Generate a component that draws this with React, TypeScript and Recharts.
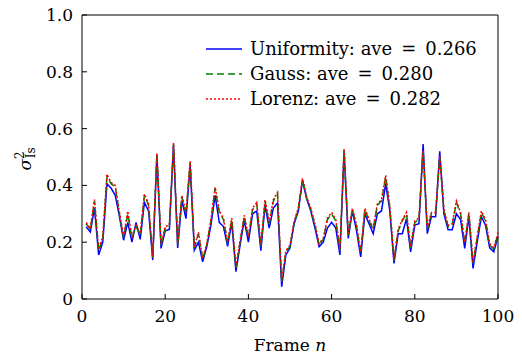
import { Label, Legend, Line, LineChart, ReferenceLine, XAxis, YAxis } from 'recharts';

const FONT = '"DejaVu Serif", serif';

// sigma^2 per frame (frames 1..100)
const uniformity = [
  0.254, 0.236, 0.32, 0.155, 0.2, 0.406, 0.39, 0.365, 0.29, 0.207,
  0.27, 0.2, 0.27, 0.21, 0.34, 0.31, 0.137, 0.505, 0.178, 0.24,
  0.245, 0.54, 0.18, 0.347, 0.283, 0.47, 0.172, 0.2, 0.131, 0.185,
  0.26, 0.365, 0.27, 0.255, 0.185, 0.27, 0.096, 0.19, 0.277, 0.2,
  0.3, 0.31, 0.17, 0.33, 0.25, 0.32, 0.338, 0.043, 0.155, 0.18,
  0.265, 0.31, 0.418, 0.353, 0.31, 0.25, 0.184, 0.2, 0.25, 0.27,
  0.25, 0.155, 0.517, 0.213, 0.31, 0.24, 0.148, 0.3, 0.265, 0.23,
  0.3, 0.31, 0.406, 0.31, 0.125, 0.23, 0.23, 0.283, 0.166, 0.26,
  0.265, 0.546, 0.23, 0.29, 0.29, 0.52, 0.3, 0.244, 0.244, 0.3,
  0.28, 0.178, 0.29, 0.108, 0.2, 0.29, 0.26, 0.18, 0.166, 0.22,
];

const gauss = [
  0.265, 0.245, 0.345, 0.17, 0.215, 0.43, 0.405, 0.395, 0.3, 0.215,
  0.3, 0.215, 0.255, 0.225, 0.365, 0.33, 0.145, 0.51, 0.19, 0.25,
  0.255, 0.545, 0.19, 0.36, 0.3, 0.48, 0.18, 0.23, 0.14, 0.19,
  0.275, 0.39, 0.305, 0.28, 0.195, 0.28, 0.11, 0.2, 0.29, 0.215,
  0.315, 0.335, 0.185, 0.345, 0.265, 0.345, 0.37, 0.06, 0.165, 0.185,
  0.27, 0.315, 0.42, 0.355, 0.315, 0.26, 0.19, 0.21, 0.28, 0.3,
  0.275, 0.17, 0.525, 0.225, 0.315, 0.255, 0.16, 0.315, 0.275, 0.245,
  0.33, 0.345, 0.43, 0.32, 0.135, 0.24, 0.275, 0.3, 0.18, 0.27,
  0.28, 0.52, 0.245, 0.3, 0.3, 0.5, 0.31, 0.255, 0.26, 0.34,
  0.3, 0.195, 0.3, 0.125, 0.215, 0.305, 0.275, 0.19, 0.175, 0.23,
];

const lorenz = [
  0.27, 0.248, 0.35, 0.175, 0.22, 0.44, 0.41, 0.4, 0.305, 0.22,
  0.31, 0.22, 0.26, 0.23, 0.37, 0.335, 0.148, 0.515, 0.195, 0.255,
  0.26, 0.55, 0.195, 0.365, 0.305, 0.485, 0.185, 0.235, 0.145, 0.195,
  0.28, 0.395, 0.31, 0.285, 0.2, 0.285, 0.115, 0.205, 0.295, 0.22,
  0.32, 0.34, 0.19, 0.35, 0.27, 0.35, 0.375, 0.065, 0.17, 0.19,
  0.275, 0.32, 0.425, 0.36, 0.32, 0.265, 0.195, 0.215, 0.285, 0.305,
  0.28, 0.175, 0.53, 0.23, 0.32, 0.26, 0.165, 0.32, 0.28, 0.25,
  0.335, 0.35, 0.435, 0.325, 0.14, 0.245, 0.28, 0.305, 0.185, 0.275,
  0.285, 0.525, 0.25, 0.305, 0.305, 0.505, 0.315, 0.26, 0.265, 0.345,
  0.305, 0.2, 0.305, 0.13, 0.22, 0.31, 0.28, 0.195, 0.18, 0.235,
];

const frames = uniformity.map((_, i) => i + 1);
const xTicks = [0, 20, 40, 60, 80, 100];
const yTicks = [0, 0.2, 0.4, 0.6, 0.8, 1.0];

const seriesInfo = [
  { key: 'uniformity', label: 'Uniformity: ave\u2002=\u20020.266', color: '#0000ff', dash: undefined },
  { key: 'gauss', label: 'Gauss: ave\u2002=\u20020.280', color: '#008000', dash: '7 4' },
  { key: 'lorenz', label: 'Lorenz: ave\u2002=\u20020.282', color: '#ff0000', dash: '2 2' },
];

const data = frames.map((frame, i) => ({
  frame,
  uniformity: uniformity[i],
  gauss: gauss[i],
  lorenz: lorenz[i],
}));

const fmtY = (v: number) => (v === 0 ? '0' : v.toFixed(1));

const renderLegend = () => (
  <div style={{ fontFamily: FONT, fontSize: 18, color: '#000' }}>
    {seriesInfo.map((s) => (
      <div key={s.key} style={{ display: 'flex', alignItems: 'center', height: 25 }}>
        <svg width={36} height={10} style={{ marginRight: 8 }}>
          <line x1={0} y1={5} x2={36} y2={5} stroke={s.color} strokeWidth={1.5} strokeDasharray={s.dash} />
        </svg>
        <span style={{ whiteSpace: 'nowrap' }}>{s.label}</span>
      </div>
    ))}
  </div>
);

const XLabel = (props: any) => {
  const { x, y, width } = props.viewBox;
  return (
    <text x={x + width / 2} y={y + 52} textAnchor="middle" fontFamily={FONT} fontSize={17} fill="#000">
      Frame <tspan fontStyle="italic">n</tspan>
    </text>
  );
};

const YLabel = (props: any) => {
  const { y, height } = props.viewBox;
  const cx = 31;
  const cy = y + height / 2 + 2;
  return (
    <text x={cx} y={cy} transform={`rotate(-90, ${cx}, ${cy})`} textAnchor="middle" fontFamily={FONT} fontSize={17} fill="#000">
      <tspan fontStyle="italic">σ</tspan>
      <tspan fontSize={12} dy={-7}>2</tspan>
      <tspan fontSize={12} dx={-7} dy={11}>Is</tspan>
    </text>
  );
};

export default function App() {
  return (
    <div style={{ position: 'absolute', left: 0, top: 0, background: '#fff' }}>
      <LineChart width={522} height={356} data={data} margin={{ top: 15, right: 24, bottom: 17, left: 0 }}>
        <XAxis
          dataKey="frame"
          type="number"
          domain={[0, 100]}
          ticks={xTicks}
          interval={0}
          height={40}
          stroke="#000"
          tickSize={-5}
          tickMargin={16}
          tick={{ fill: '#000', fontFamily: FONT, fontSize: 17 }}
        >
          <Label content={<XLabel />} />
        </XAxis>
        <YAxis
          type="number"
          domain={[0, 1]}
          ticks={yTicks}
          interval={0}
          width={82}
          stroke="#000"
          tickSize={-5}
          tickMargin={14}
          tickFormatter={fmtY}
          tick={{ fill: '#000', fontFamily: FONT, fontSize: 17 }}
        >
          <Label content={<YLabel />} />
        </YAxis>
        <ReferenceLine y={1} stroke="#000" />
        <ReferenceLine x={100} stroke="#000" />
        {seriesInfo.map((s) => (
          <Line
            key={s.key}
            type="linear"
            dataKey={s.key}
            stroke={s.color}
            strokeWidth={1.5}
            strokeDasharray={s.dash}
            dot={false}
            isAnimationActive={false}
          />
        ))}
        <Legend
          layout="vertical"
          align="center"
          verticalAlign="middle"
          content={renderLegend}
          wrapperStyle={{ left: 206, top: 36, width: 'auto' }}
        />
      </LineChart>
    </div>
  );
}
